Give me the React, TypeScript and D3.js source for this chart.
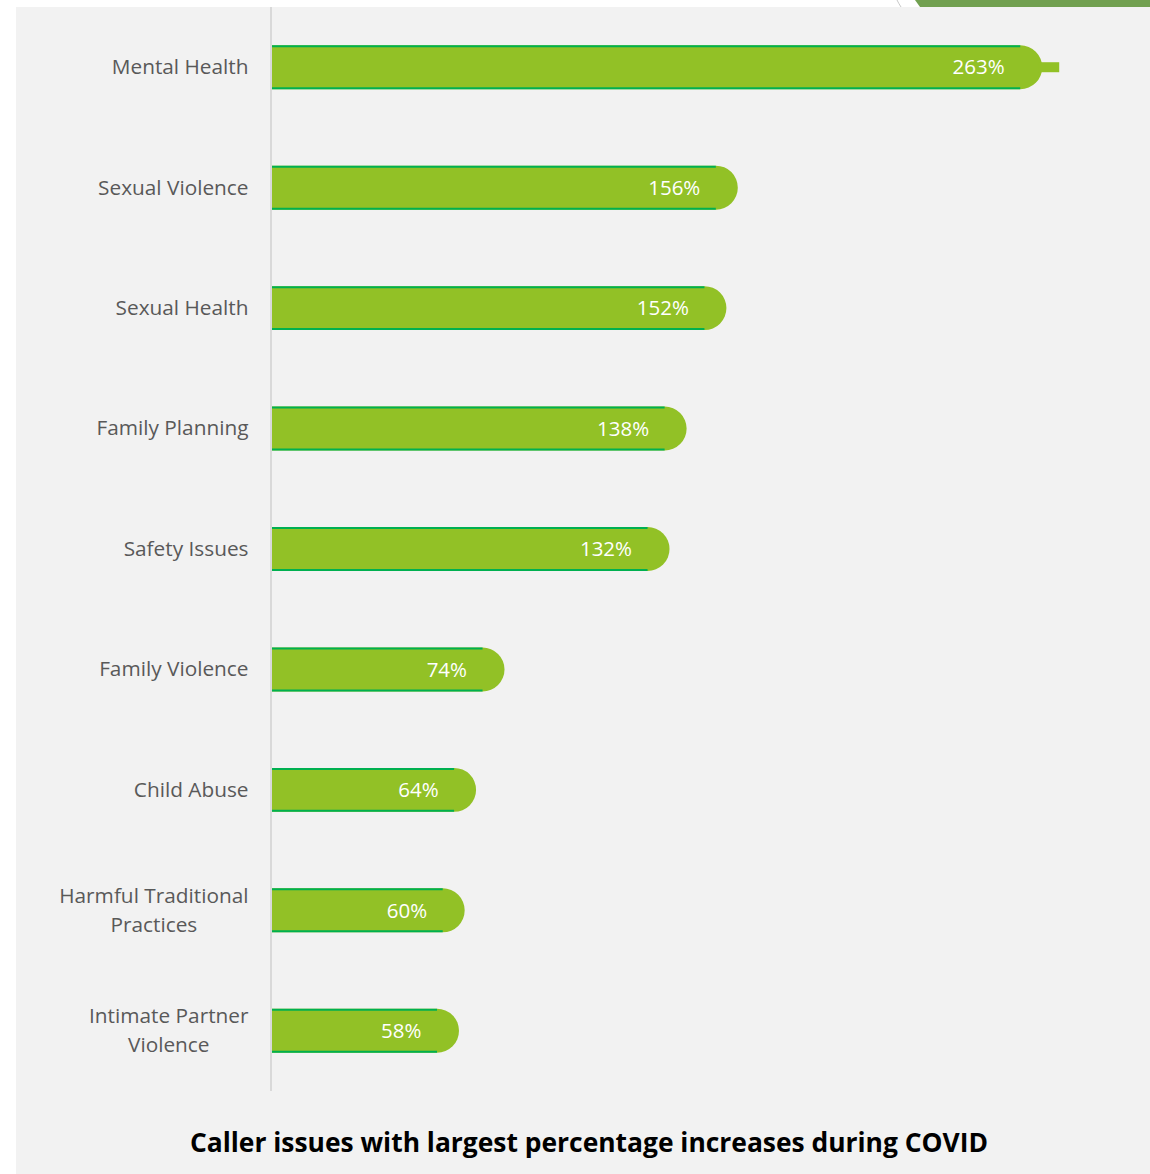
import React, { useEffect, useRef } from "react";
import * as d3 from "d3";

const categories: string[][] = [
  ["Mental Health"],
  ["Sexual Violence"],
  ["Sexual Health"],
  ["Family Planning"],
  ["Safety Issues"],
  ["Family Violence"],
  ["Child Abuse"],
  ["Harmful Traditional", "Practices"],
  ["Intimate Partner", "Violence"],
];
const values: number[] = [263, 156, 152, 138, 132, 74, 64, 60, 58];
const valueLabels: string[] = ["263%", "156%", "152%", "138%", "132%", "74%", "64%", "60%", "58%"];
const title = "Caller issues with largest percentage increases during COVID";

const W = 1150;
const H = 1174;
const FONT = "'Open Sans', 'Noto Sans', sans-serif";

export default function App() {
  const ref = useRef<SVGSVGElement | null>(null);

  useEffect(() => {
    const svg = d3.select(ref.current);
    svg.selectAll("*").remove();

    // panel
    svg.append("rect").attr("x", 16).attr("y", 7).attr("width", W - 16).attr("height", H - 7).attr("fill", "#f2f2f2");
    // top-right decoration
    svg.append("path").attr("d", "M915,0 L1150,0 L1150,7 L920,7 Z").attr("fill", "#71a050");
    svg.append("path").attr("d", "M897,0 Q899,4 901,7").attr("fill", "none").attr("stroke", "#c8c8c8").attr("stroke-width", 1);

    const x = d3.scaleLinear().domain([0, 100]).range([272, 272 + 284.5]);
    const y = d3
      .scaleBand<number>()
      .domain(values.map((_, i) => i))
      .range([7, 1091])
      .paddingInner(0.635)
      .paddingOuter(0.3175);

    // axis line
    svg.append("line").attr("x1", 271).attr("x2", 271).attr("y1", 7).attr("y2", 1091).attr("stroke", "#d9d9d9").attr("stroke-width", 2);

    const maxV = d3.max(values) as number;
    const g = svg.append("g");
    values.forEach((v, i) => {
      const y0 = y(i) as number;
      const h = y.bandwidth();
      const r = h / 2;
      const x0 = x(0);
      const xe = x(v);
      const p = d3.path();
      p.moveTo(x0, y0);
      p.lineTo(xe, y0);
      p.arc(xe, y0 + r, r, -Math.PI / 2, Math.PI / 2, false);
      p.lineTo(x0, y0 + h);
      p.closePath();
      g.append("path").attr("d", p.toString()).attr("fill", "#92c126");
      g.append("line").attr("x1", x0).attr("x2", xe).attr("y1", y0 + 1).attr("y2", y0 + 1).attr("stroke", "#00b050").attr("stroke-width", 2);
      g.append("line").attr("x1", x0).attr("x2", xe).attr("y1", y0 + h - 1).attr("y2", y0 + h - 1).attr("stroke", "#00b050").attr("stroke-width", 2);
      if (v === maxV) {
        g.append("rect").attr("x", xe + r - 4).attr("y", y0 + r - 5).attr("width", 21).attr("height", 10).attr("fill", "#92c126");
      }
      g.append("text")
        .attr("x", xe - 15.5)
        .attr("y", y0 + r)
        .attr("dy", "0.35em")
        .attr("text-anchor", "end")
        .attr("fill", "#ffffff")
        .attr("font-family", FONT)
        .attr("font-size", 20.5)
        .text(valueLabels[i]);

      // category label
      const lines = categories[i];
      const lh = 29;
      const cy = y0 + r;
      const tg = g.append("g");
      const texts = lines.map((ln, k) =>
        tg
          .append("text")
          .attr("y", cy + (k - (lines.length - 1) / 2) * lh)
          .attr("dy", "0.33em")
          .attr("text-anchor", "middle")
          .attr("fill", "#595959")
          .attr("font-family", FONT)
          .attr("font-size", 20.8)
          .text(ln)
      );
      const maxW = d3.max(texts, (t) => (t.node() as SVGTextElement).getComputedTextLength()) as number;
      texts.forEach((t) => t.attr("x", 248.5 - maxW / 2));
    });

    svg
      .append("text")
      .attr("x", 589)
      .attr("y", 1143)
      .attr("dy", "0.35em")
      .attr("text-anchor", "middle")
      .attr("font-family", FONT)
      .attr("font-weight", "bold")
      .attr("font-size", 26)
      .attr("textLength", 798)
      .attr("lengthAdjust", "spacingAndGlyphs")
      .attr("fill", "#000000")
      .text(title);
  }, []);

  return (
    <svg
      ref={ref}
      width={W}
      height={H}
      style={{ position: "absolute", left: 0, top: 0, display: "block", background: "#ffffff" }}
    />
  );
}
